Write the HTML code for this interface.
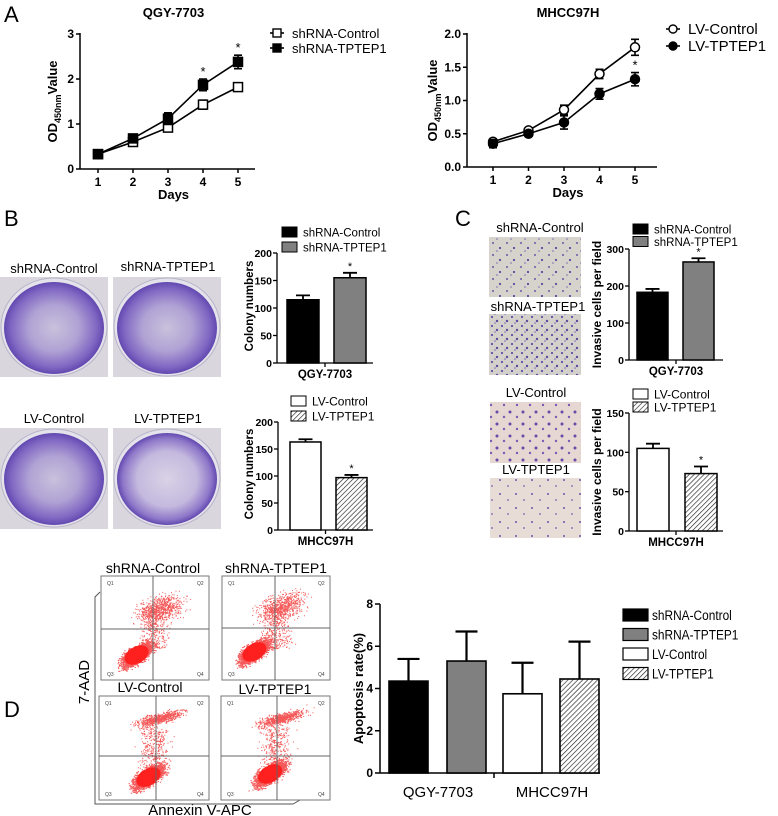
<!DOCTYPE html>
<html><head><meta charset="utf-8">
<style>
html,body{margin:0;padding:0;background:#fff;}
svg{display:block;font-family:"Liberation Sans",Arial,sans-serif;}
</style></head>
<body>
<svg id="fig" xmlns="http://www.w3.org/2000/svg" width="778" height="816" viewBox="0 0 778 816">
<defs>
  <pattern id="hatch" patternUnits="userSpaceOnUse" width="3.5" height="3.5" patternTransform="rotate(45)">
    <rect width="3.5" height="3.5" fill="#fff"/>
    <line x1="0" y1="0" x2="0" y2="3.5" stroke="#222" stroke-width="1.3"/>
  </pattern>
  <radialGradient id="dishA" cx="50%" cy="50%" r="50%">
    <stop offset="0" stop-color="#c9c1dc"/>
    <stop offset="0.5" stop-color="#b0a2d4"/>
    <stop offset="0.85" stop-color="#8068c3"/>
    <stop offset="1" stop-color="#6248b0"/>
  </radialGradient>
  <radialGradient id="dishB" cx="50%" cy="50%" r="50%">
    <stop offset="0" stop-color="#d8d3e6"/>
    <stop offset="0.6" stop-color="#c4b9de"/>
    <stop offset="0.88" stop-color="#8e78c9"/>
    <stop offset="1" stop-color="#6248b0"/>
  </radialGradient>
  <pattern id="cellsGray" patternUnits="userSpaceOnUse" width="14" height="12">
    <rect width="14" height="12" fill="#d6d3cc"/>
    <circle cx="3" cy="3" r="1" fill="#6a58a8"/>
    <circle cx="10" cy="8" r="1.1" fill="#5a4a9c"/>
    <circle cx="7" cy="11" r="0.8" fill="#7b6ab5"/>
  </pattern>
  <pattern id="cellsGray2" patternUnits="userSpaceOnUse" width="10" height="9">
    <rect width="10" height="9" fill="#d4d1cc"/>
    <circle cx="2" cy="2" r="1.1" fill="#5f4fa3"/>
    <circle cx="7" cy="6" r="1.2" fill="#5a4a9c"/>
    <circle cx="5" cy="8" r="0.8" fill="#7b6ab5"/>
  </pattern>
  <pattern id="cellsPink" patternUnits="userSpaceOnUse" width="13" height="12">
    <rect width="13" height="12" fill="#e6d7d2"/>
    <circle cx="3" cy="4" r="1.5" fill="#6a48a8"/>
    <circle cx="10" cy="9" r="1.2" fill="#7a5ab5"/>
  </pattern>
  <pattern id="cellsPink2" patternUnits="userSpaceOnUse" width="16" height="14">
    <rect width="16" height="14" fill="#e8dcd6"/>
    <circle cx="4" cy="4" r="1" fill="#6a58a8"/>
    <circle cx="12" cy="10" r="0.9" fill="#7a5ab5"/>
  </pattern>
</defs>

<text x="4" y="22" font-size="22">A</text>
<text x="4" y="226" font-size="22">B</text>
<text x="455" y="226" font-size="22">C</text>
<text x="4" y="717" font-size="22">D</text>

<g>
  <text x="54" y="273" font-size="13" text-anchor="middle">shRNA-Control</text>
  <text x="168" y="271" font-size="13" text-anchor="middle">shRNA-TPTEP1</text>
  <text x="54" y="423" font-size="13" text-anchor="middle">LV-Control</text>
  <text x="168" y="423" font-size="13" text-anchor="middle">LV-TPTEP1</text>
  <g><rect x="0" y="277" width="108" height="100" fill="#d9d7dd"/><ellipse cx="54" cy="327" rx="53" ry="49" fill="#e4e2ea" stroke="#b8b2c8"/><ellipse cx="54" cy="328" rx="50" ry="46" fill="url(#dishA)"/></g>
  <g><rect x="113" y="277" width="108" height="100" fill="#d9d7dd"/><ellipse cx="167" cy="327" rx="53" ry="49" fill="#e4e2ea" stroke="#b8b2c8"/><ellipse cx="167" cy="328" rx="50" ry="46" fill="url(#dishA)"/></g>
  <g><rect x="0" y="428" width="108" height="101" fill="#d9d7dd"/><ellipse cx="54" cy="478" rx="53" ry="49" fill="#e4e2ea" stroke="#b8b2c8"/><ellipse cx="54" cy="479" rx="50" ry="46" fill="url(#dishA)"/></g>
  <g><rect x="113" y="428" width="108" height="101" fill="#d9d7dd"/><ellipse cx="167" cy="478" rx="53" ry="49" fill="#e4e2ea" stroke="#b8b2c8"/><ellipse cx="167" cy="479" rx="50" ry="46" fill="url(#dishB)"/></g>
</g>

<g>
  <text x="540" y="232" font-size="13" text-anchor="middle">shRNA-Control</text>
  <rect x="489" y="237" width="92" height="60" fill="url(#cellsGray)"/>
  <text x="538" y="311" font-size="13" text-anchor="middle">shRNA-TPTEP1</text>
  <rect x="489" y="314" width="92" height="61" fill="url(#cellsGray2)"/>
  <text x="536" y="397" font-size="13" text-anchor="middle">LV-Control</text>
  <rect x="490" y="402" width="91" height="61" fill="url(#cellsPink)"/>
  <text x="536" y="474" font-size="13" text-anchor="middle">LV-TPTEP1</text>
  <rect x="490" y="478" width="91" height="60" fill="url(#cellsPink2)"/>
</g>

<g id="flow">
  <text x="153" y="573" font-size="14" text-anchor="middle">shRNA-Control</text>
  <text x="276" y="573" font-size="14" text-anchor="middle">shRNA-TPTEP1</text>
  <text x="150" y="692" font-size="14" text-anchor="middle">LV-Control</text>
  <text x="275" y="694" font-size="14" text-anchor="middle">LV-TPTEP1</text>
  <text transform="translate(89,682) rotate(-90)" font-size="15" text-anchor="middle">7-AAD</text>
  <text x="200" y="815" font-size="15" text-anchor="middle">Annexin V-APC</text>
  <polyline points="100,592 95,597 95,804 293,804 300,800" fill="none" stroke="#555" stroke-width="1"/>
</g>

<g id="charts"></g>
</svg>

<script>
// ---------- DATA ----------
const days = [1, 2, 3, 4, 5];
const qgyControl = [0.33, 0.60, 0.92, 1.43, 1.82];
const qgyControlErr = [0.05, 0.07, 0.07, 0.10, 0.09];
const qgyTptep1 = [0.33, 0.68, 1.12, 1.87, 2.38];
const qgyTptep1Err = [0.04, 0.06, 0.13, 0.13, 0.15];
const qgyTicks = [0, 1, 2, 3];
const qgyStarDays = [4, 5];

const mhccControl = [0.38, 0.55, 0.86, 1.40, 1.80];
const mhccControlErr = [0.03, 0.03, 0.07, 0.07, 0.12];
const mhccTptep1 = [0.35, 0.50, 0.67, 1.10, 1.32];
const mhccTptep1Err = [0.06, 0.03, 0.10, 0.08, 0.10];
const mhccTicks = [0.0, 0.5, 1.0, 1.5, 2.0];
const mhccStarDays = [5];

const colonyQgy = [115, 155];
const colonyQgyErr = [8, 9];
const colonyMhcc = [163, 97];
const colonyMhccErr = [5, 5];
const colonyTicks = [0, 50, 100, 150, 200];

const invasionQgy = [183, 265];
const invasionQgyErr = [9, 10];
const invasionQgyTicks = [0, 100, 200, 300];
const invasionMhcc = [105, 73];
const invasionMhccErr = [6, 9];
const invasionMhccTicks = [0, 50, 100, 150];

const apoptosisGroups = ['QGY-7703', 'MHCC97H'];
const apoptosisSeries = ['shRNA-Control', 'shRNA-TPTEP1', 'LV-Control', 'LV-TPTEP1'];
const apoptosisValues = [4.35, 5.3, 3.75, 4.45];
const apoptosisErr = [1.05, 1.4, 1.47, 1.77];
const apoptosisTicks = [0, 2, 4, 6, 8];

// ---------- HELPERS ----------
const NS = 'http://www.w3.org/2000/svg';
const root = document.getElementById('charts');
function mk(tag, attrs, parent, name) {
  const e = document.createElementNS(NS, tag);
  for (const k in attrs) e.setAttribute(k, attrs[k]);
  
  
  (parent || root).appendChild(e);
  return e;
}
function txt(s, attrs, parent, name) {
  const e = mk('text', attrs, parent, name);
  e.textContent = s;
  return e;
}
function grp(name) {
  const g = document.createElementNS(NS, 'g');
  
  
  root.appendChild(g);
  return g;
}
function linearScale(d0, d1, r0, r1) { return v => r0 + (v - d0) * (r1 - r0) / (d1 - d0); }

// ---------- LINE CHART ----------
function lineChart(cfg) {
  const g = grp(cfg.name);
  const y = linearScale(0, cfg.ymax, cfg.y0, cfg.yTop);
  const x = linearScale(1, 5, cfg.x1, cfg.x5);
  mk('line', {x1: cfg.ax, y1: cfg.yTop - 1, x2: cfg.ax, y2: cfg.y0, stroke: '#000', 'stroke-width': 1.5}, g, 'y-axis');
  mk('line', {x1: cfg.ax, y1: cfg.y0, x2: cfg.axEnd, y2: cfg.y0, stroke: '#000', 'stroke-width': 1.5}, g, 'x-axis');
  cfg.ticks.forEach(t => {
    mk('line', {x1: cfg.ax - 4, y1: y(t), x2: cfg.ax, y2: y(t), stroke: '#000', 'stroke-width': 1.5}, g, 'y-tick');
    txt(cfg.tickFmt(t), {x: cfg.ax - 6, y: y(t) + 4, 'font-size': 12, 'font-weight': 'bold', 'text-anchor': 'end'}, g, 'y-tick-label');
  });
  days.forEach(d => {
    mk('line', {x1: x(d), y1: cfg.y0, x2: x(d), y2: cfg.y0 + 4, stroke: '#000', 'stroke-width': 1.5}, g, 'x-tick');
    txt(String(d), {x: x(d), y: cfg.y0 + 17, 'font-size': 12, 'font-weight': 'bold', 'text-anchor': 'middle'}, g, 'x-tick-label');
  });
  txt('Days', {x: (cfg.ax + cfg.axEnd) / 2 + 6, y: cfg.y0 + 30, 'font-size': 13, 'font-weight': 'bold', 'text-anchor': 'middle'}, g, 'x-axis-title');
  txt(cfg.title, {x: (cfg.ax + cfg.axEnd) / 2 + 6, y: 17, 'font-size': 13, 'font-weight': 'bold', 'text-anchor': 'middle'}, g, 'chart-title');
  const yl = mk('text', {transform: `translate(${cfg.ylx},${(cfg.y0 + cfg.yTop) / 2}) rotate(-90)`, 'font-size': 13, 'font-weight': 'bold', 'text-anchor': 'middle'}, g, 'y-axis-title');
  yl.innerHTML = 'OD<tspan font-size="9" dy="4">450nm</tspan><tspan dy="-4">Value</tspan>';

  cfg.series.forEach((s, si) => {
    const pts = s.vals.map((v, i) => x(days[i]) + ',' + y(v)).join(' ');
    mk('polyline', {points: pts, fill: 'none', stroke: '#000', 'stroke-width': 1.6}, g, 'line-' + s.key);
    s.vals.forEach((v, i) => {
      const cx = x(days[i]), cy = y(v), e = s.err[i];
      mk('path', {d: `M${cx - 4},${y(v + e)}H${cx + 4}M${cx},${y(v + e)}V${y(v - e)}M${cx - 4},${y(v - e)}H${cx + 4}`, stroke: '#000', 'stroke-width': 1.6, fill: 'none'}, g, 'error-bar-' + s.key);
      if (cfg.shape === 'square') {
        mk('rect', {x: cx - 4.5, y: cy - 4.5, width: 9, height: 9, fill: s.filled ? '#000' : '#fff', stroke: '#000', 'stroke-width': 1.5}, g, 'point-' + s.key);
      } else {
        mk('circle', {cx: cx, cy: cy, r: 4.5, fill: s.filled ? '#000' : '#fff', stroke: '#000', 'stroke-width': 1.5}, g, 'point-' + s.key);
      }
    });
  });
  const star = cfg.series[cfg.starSeries];
  cfg.stars.forEach(d => {
    const i = days.indexOf(d);
    txt('*', {x: x(d), y: y(star.vals[i] + star.err[i]) - 3, 'font-size': 13, 'text-anchor': 'middle'}, g, 'significance-star');
  });
  cfg.series.forEach((s, si) => {
    const ly = cfg.legY + si * cfg.legDy;
    mk('line', {x1: cfg.legX, y1: ly, x2: cfg.legX + 14, y2: ly, stroke: '#000', 'stroke-width': 1.6}, g, 'legend-line');
    if (cfg.shape === 'square') mk('rect', {x: cfg.legX + 3, y: ly - 4, width: 8, height: 8, fill: s.filled ? '#000' : '#fff', stroke: '#000', 'stroke-width': 1.4}, g, 'legend-marker');
    else mk('circle', {cx: cfg.legX + 7, cy: ly, r: 4, fill: s.filled ? '#000' : '#fff', stroke: '#000', 'stroke-width': 1.4}, g, 'legend-marker');
    txt(s.label, {x: cfg.legX + 22, y: ly + 5, 'font-size': cfg.legFs}, g, 'legend-entry');
  });
}

lineChart({name: 'growth-chart-qgy7703', title: 'QGY-7703', ax: 80, axEnd: 255, y0: 169, yTop: 34, ymax: 3, x1: 98, x5: 238,
  ticks: qgyTicks, tickFmt: t => String(t), ylx: 57, shape: 'square', starSeries: 1, stars: qgyStarDays,
  legX: 270, legY: 33, legDy: 15, legFs: 13,
  series: [{key: 'shrna-control', label: 'shRNA-Control', vals: qgyControl, err: qgyControlErr, filled: false},
           {key: 'shrna-tptep1', label: 'shRNA-TPTEP1', vals: qgyTptep1, err: qgyTptep1Err, filled: true}]});
lineChart({name: 'growth-chart-mhcc97h', title: 'MHCC97H', ax: 467, axEnd: 657, y0: 167, yTop: 34, ymax: 2, x1: 493, x5: 635,
  ticks: mhccTicks, tickFmt: t => t.toFixed(1), ylx: 437, shape: 'circle', starSeries: 1, stars: mhccStarDays,
  legX: 666, legY: 29, legDy: 17, legFs: 15,
  series: [{key: 'lv-control', label: 'LV-Control', vals: mhccControl, err: mhccControlErr, filled: false},
           {key: 'lv-tptep1', label: 'LV-TPTEP1', vals: mhccTptep1, err: mhccTptep1Err, filled: true}]});

// ---------- BAR CHARTS (B, C) ----------
function barChart(cfg) {
  const g = grp(cfg.name);
  const y = linearScale(0, cfg.ymax, cfg.y0, cfg.yTop);
  mk('line', {x1: cfg.ax, y1: cfg.yTop, x2: cfg.ax, y2: cfg.y0, stroke: '#000', 'stroke-width': 1.3}, g, 'y-axis');
  mk('line', {x1: cfg.ax, y1: cfg.y0, x2: cfg.axEnd, y2: cfg.y0, stroke: '#000', 'stroke-width': 1.3}, g, 'x-axis');
  cfg.ticks.forEach(t => {
    mk('line', {x1: cfg.ax - 4, y1: y(t), x2: cfg.ax, y2: y(t), stroke: '#000', 'stroke-width': 1.3}, g, 'y-tick');
    txt(String(t), {x: cfg.ax - 5, y: y(t) + 4, 'font-size': 10.5, 'font-weight': 'bold', 'text-anchor': 'end'}, g, 'y-tick-label');
  });
  const mid = (cfg.ax + cfg.axEnd) / 2;
  mk('line', {x1: mid, y1: cfg.y0, x2: mid, y2: cfg.y0 + 4, stroke: '#000', 'stroke-width': 1.3}, g, 'x-tick');
  txt(cfg.cat, {x: mid, y: cfg.y0 + 15, 'font-size': 11.5, 'font-weight': 'bold', 'text-anchor': 'middle'}, g, 'x-category-label');
  txt(cfg.ylabel, {transform: `translate(${cfg.ylx},${(cfg.y0 + cfg.yTop) / 2 + cfg.yloff}) rotate(-90)`, 'font-size': cfg.ylfs, 'font-weight': 'bold', 'text-anchor': 'middle'}, g, 'y-axis-title');
  cfg.vals.forEach((v, i) => {
    const bx = cfg.barX[i];
    mk('rect', {x: bx, y: y(v), width: cfg.bw, height: cfg.y0 - y(v), fill: cfg.fills[i], stroke: '#000', 'stroke-width': 1.5}, g, 'bar-' + cfg.keys[i]);
    const cx = bx + cfg.bw / 2, top = y(v + cfg.err[i]);
    mk('path', {d: `M${cx},${y(v)}V${top}M${cx - 7},${top}H${cx + 7}`, stroke: '#000', 'stroke-width': 1.8, fill: 'none'}, g, 'error-bar-' + cfg.keys[i]);
    if (i === 1) txt('*', {x: cx, y: top - 3, 'font-size': 11, 'text-anchor': 'middle'}, g, 'significance-star');
  });
  cfg.keys.forEach((k, i) => {
    const ly = cfg.legY + i * cfg.legDy;
    mk('rect', {x: cfg.legX, y: ly - 5, width: 15, height: 10, fill: cfg.fills[i], stroke: '#000', 'stroke-width': 1}, g, 'legend-swatch');
    txt(cfg.labels[i], {x: cfg.legX + 21, y: ly + 4.5, 'font-size': cfg.legFs}, g, 'legend-entry');
  });
}
barChart({name: 'colony-chart-qgy7703', ax: 277, axEnd: 373, y0: 363, yTop: 253, ymax: 200, ticks: colonyTicks,
  vals: colonyQgy, err: colonyQgyErr, barX: [287, 334], bw: 32, fills: ['#000', '#808080'], keys: ['shrna-control', 'shrna-tptep1'],
  labels: ['shRNA-Control', 'shRNA-TPTEP1'], cat: 'QGY-7703', ylabel: 'Colony numbers', ylx: 253, yloff: -2, ylfs: 11.5,
  legX: 282, legY: 232, legDy: 15, legFs: 11.5});
barChart({name: 'colony-chart-mhcc97h', ax: 278, axEnd: 373, y0: 530, yTop: 422, ymax: 200, ticks: colonyTicks,
  vals: colonyMhcc, err: colonyMhccErr, barX: [290, 336], bw: 31, fills: ['#fff', 'url(#hatch)'], keys: ['lv-control', 'lv-tptep1'],
  labels: ['LV-Control', 'LV-TPTEP1'], cat: 'MHCC97H', ylabel: 'Colony numbers', ylx: 253, yloff: -2, ylfs: 11.5,
  legX: 291, legY: 401, legDy: 15, legFs: 12});
barChart({name: 'invasion-chart-qgy7703', ax: 629, axEnd: 723, y0: 360, yTop: 249, ymax: 300, ticks: invasionQgyTicks,
  vals: invasionQgy, err: invasionQgyErr, barX: [637, 683], bw: 31, fills: ['#000', '#808080'], keys: ['shrna-control', 'shrna-tptep1'],
  labels: ['shRNA-Control', 'shRNA-TPTEP1'], cat: 'QGY-7703', ylabel: 'Invasive cells per field', ylx: 601, yloff: 0, ylfs: 12,
  legX: 633, legY: 229, legDy: 12.5, legFs: 11.5});
barChart({name: 'invasion-chart-mhcc97h', ax: 629, axEnd: 723, y0: 531, yTop: 413, ymax: 150, ticks: invasionMhccTicks,
  vals: invasionMhcc, err: invasionMhccErr, barX: [637, 685], bw: 32, fills: ['#fff', 'url(#hatch)'], keys: ['lv-control', 'lv-tptep1'],
  labels: ['LV-Control', 'LV-TPTEP1'], cat: 'MHCC97H', ylabel: 'Invasive cells per field', ylx: 601, yloff: 0, ylfs: 12,
  legX: 633, legY: 394, legDy: 13, legFs: 12});

// ---------- APOPTOSIS CHART (D) ----------
(function () {
  const g = grp('apoptosis-chart');
  const ax = 380, axEnd = 600, y0 = 773, yTop = 604;
  const y = linearScale(0, 8, y0, yTop);
  const barX = [389, 447, 503, 560], bw = 39;
  const fills = ['#000', '#808080', '#fff', 'url(#hatch)'];
  mk('line', {x1: ax, y1: yTop, x2: ax, y2: y0, stroke: '#000', 'stroke-width': 1.5}, g, 'y-axis');
  mk('line', {x1: ax, y1: y0, x2: axEnd, y2: y0, stroke: '#000', 'stroke-width': 1.5}, g, 'x-axis');
  apoptosisTicks.forEach(t => {
    mk('line', {x1: ax - 5, y1: y(t), x2: ax, y2: y(t), stroke: '#000', 'stroke-width': 1.5}, g, 'y-tick');
    txt(String(t), {x: ax - 7, y: y(t) + 4, 'font-size': 12, 'font-weight': 'bold', 'text-anchor': 'end'}, g, 'y-tick-label');
  });
  mk('line', {x1: 494, y1: y0, x2: 494, y2: y0 + 5, stroke: '#000', 'stroke-width': 1.5}, g, 'x-tick');
  apoptosisGroups.forEach((c, i) => {
    txt(c, {x: i === 0 ? 438 : 552, y: 797, 'font-size': 15, 'text-anchor': 'middle'}, g, 'x-category-label');
  });
  txt('Apoptosis rate(%)', {transform: `translate(363,${(y0 + yTop) / 2}) rotate(-90)`, 'font-size': 13, 'font-weight': 'bold', 'text-anchor': 'middle'}, g, 'y-axis-title');
  apoptosisValues.forEach((v, i) => {
    const cx = barX[i] + bw / 2, top = y(v + apoptosisErr[i]);
    mk('path', {d: `M${cx},${y(v)}V${top}M${cx - 11},${top}H${cx + 11}`, stroke: '#000', 'stroke-width': 2.2, fill: 'none'}, g, 'error-bar');
    mk('rect', {x: barX[i], y: y(v), width: bw, height: y0 - y(v), fill: fills[i], stroke: '#000', 'stroke-width': 1.6}, g, 'bar-' + apoptosisSeries[i].toLowerCase());
  });
  apoptosisSeries.forEach((s, i) => {
    const ly = 615 + i * 19.5;
    mk('rect', {x: 623, y: ly - 6, width: 25, height: 12, fill: fills[i], stroke: '#000', 'stroke-width': 1.2}, g, 'legend-swatch');
    txt(s, {x: 652, y: ly + 5, 'font-size': 13.5, transform: `translate(${652 * 0.12},0) scale(0.88,1)`}, g, 'legend-entry');
  });
})();

// ---------- FLOW PLOTS (decorative scatter texture) ----------
(function () {
  const flow = document.getElementById('flow');
  let seed = 12345;
  function rnd() { seed = (seed * 1103515245 + 12345) % 2147483648; return seed / 2147483648; }
  function gauss() { return (rnd() + rnd() + rnd() + rnd() - 2) / 1.15; }
  const boxes = [
    {x: 101, y: 576, w: 108, h: 104, vx: 153, hy: 629, cx: 0.33, cy: 0.76, upper: 0.32, band: false},
    {x: 222, y: 576, w: 108, h: 104, vx: 275, hy: 628, cx: 0.3, cy: 0.73, upper: 0.3, band: false},
    {x: 99, y: 696, w: 110, h: 104, vx: 156, hy: 756, cx: 0.45, cy: 0.78, upper: 0.22, band: true},
    {x: 221, y: 696, w: 109, h: 104, vx: 277, hy: 756, cx: 0.45, cy: 0.75, upper: 0.22, band: true}
  ];
  boxes.forEach((b, bi) => {
    const g = document.createElementNS(NS, 'g');
    
    
    flow.appendChild(g);
    mk('rect', {x: b.x, y: b.y, width: b.w, height: b.h, fill: '#fff', stroke: '#777', 'stroke-width': 1}, g, 'flow-plot-frame');
    let d = '';
    const inside = (px, py) => px > b.x + 1 && px < b.x + b.w - 1 && py > b.y + 1 && py < b.y + b.h - 1;
    // main population (correlated, diagonal)
    for (let k = 0; k < 2600; k++) {
      const u = gauss(), v = gauss();
      const px = b.x + b.w * (b.cx + u * 0.13), py = b.y + b.h * (b.cy - u * 0.07 + v * 0.08);
      if (inside(px, py)) d += `M${px.toFixed(1)},${py.toFixed(1)}h1.3`;
    }
    // upper diffuse population
    for (let k = 0; k < 700; k++) {
      const u = gauss(), v = gauss();
      const px = b.x + b.w * (0.55 + u * 0.2), py = b.y + b.h * (b.upper + v * (b.band ? 0.05 : 0.12) - u * 0.05);
      if (inside(px, py)) d += `M${px.toFixed(1)},${py.toFixed(1)}h1`;
    }
    // vertical trail between populations
    for (let k = 0; k < 350; k++) {
      const px = b.x + b.w * (0.5 + gauss() * 0.13), py = b.y + b.h * (0.3 + rnd() * 0.4);
      if (inside(px, py)) d += `M${px.toFixed(1)},${py.toFixed(1)}h1`;
    }
    mk('path', {d: d, stroke: '#f02020', 'stroke-width': 1, 'stroke-opacity': 0.75}, g, 'flow-scatter');
    mk('ellipse', {cx: b.x + b.w * b.cx, cy: b.y + b.h * b.cy, rx: b.w * 0.12, ry: b.h * 0.08, fill: '#ff1a1a', 'fill-opacity': 0.9, transform: `rotate(-30 ${b.x + b.w * b.cx} ${b.y + b.h * b.cy})`}, g, 'flow-dense-population');
    mk('line', {x1: b.vx, y1: b.y, x2: b.vx, y2: b.y + b.h, stroke: '#666', 'stroke-width': 1}, g, 'quadrant-line');
    mk('line', {x1: b.x, y1: b.hy, x2: b.x + b.w, y2: b.hy, stroke: '#666', 'stroke-width': 1}, g, 'quadrant-line');
    [['Q1', b.x + 6, b.y + 9], ['Q2', b.x + b.w - 12, b.y + 9], ['Q3', b.x + 6, b.y + b.h - 4], ['Q4', b.x + b.w - 12, b.y + b.h - 4]].forEach(q => {
      txt(q[0], {x: q[1], y: q[2], 'font-size': 5, fill: '#444'}, g, 'quadrant-label');
    });
  });
})();
</script>
</body></html>
